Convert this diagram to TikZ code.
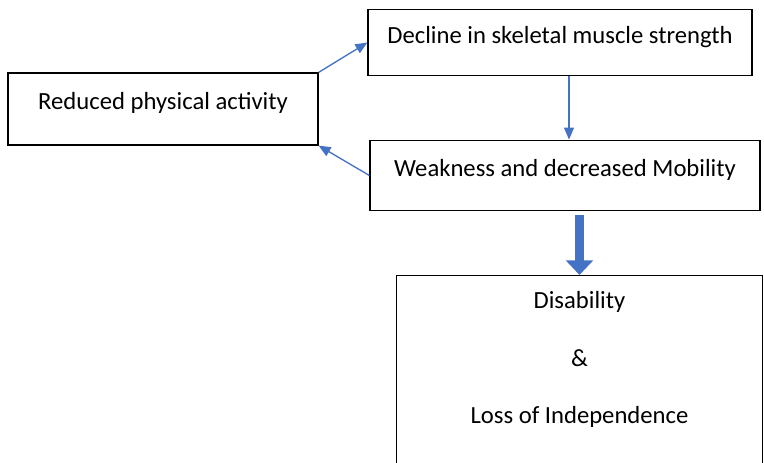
\documentclass[tikz,border=0pt]{standalone}
\usepackage{fontspec}
\setmainfont{Carlito}
\usetikzlibrary{arrows.meta}

\definecolor{officeblue}{HTML}{4472C4}

\begin{document}
\begin{tikzpicture}[x=0.75pt, y=-0.75pt,
    box/.style={draw, line width=0.9pt, rectangle, inner sep=0pt,
      font=\fontsize{18.5}{22}\selectfont, text depth=12pt},
    link/.style={draw=officeblue, line width=1pt,
      -{Triangle[length=9pt,width=7.5pt]}},
    bigarrow/.style={draw=officeblue, line width=6.5pt,
      -{Triangle[length=11pt,width=20pt]}}]

    \useasboundingbox (0,0) rectangle (764,462);

    \node[box, minimum width=232.5pt, minimum height=54pt] (reduced) at (163,109) {Reduced physical activity};
    \node[box, minimum width=288pt, minimum height=50pt] (decline) at (560,42.5) {Decline in skeletal muscle strength};
    \node[box, minimum width=292.5pt, minimum height=53pt] (weakness) at (565,175.5) {Weakness and decreased Mobility};

    \node[box, align=center, text depth=34pt, minimum width=274pt, minimum height=157pt, anchor=north] (disability) at (579.5,275)
      {Disability\\[21pt]\&\\[21pt]Loss of Independence};

    \draw[link] (reduced.north east) -- (decline.west);
    \draw[link] ([xshift=3pt]weakness.north |- decline.south) -- ([xshift=3pt]weakness.north);
    \draw[link] (weakness.west) -- (reduced.south east);

    \draw[bigarrow, shorten <=3pt] (weakness.south -| disability.north) -- (disability.north);
  \end{tikzpicture}
\end{document}
